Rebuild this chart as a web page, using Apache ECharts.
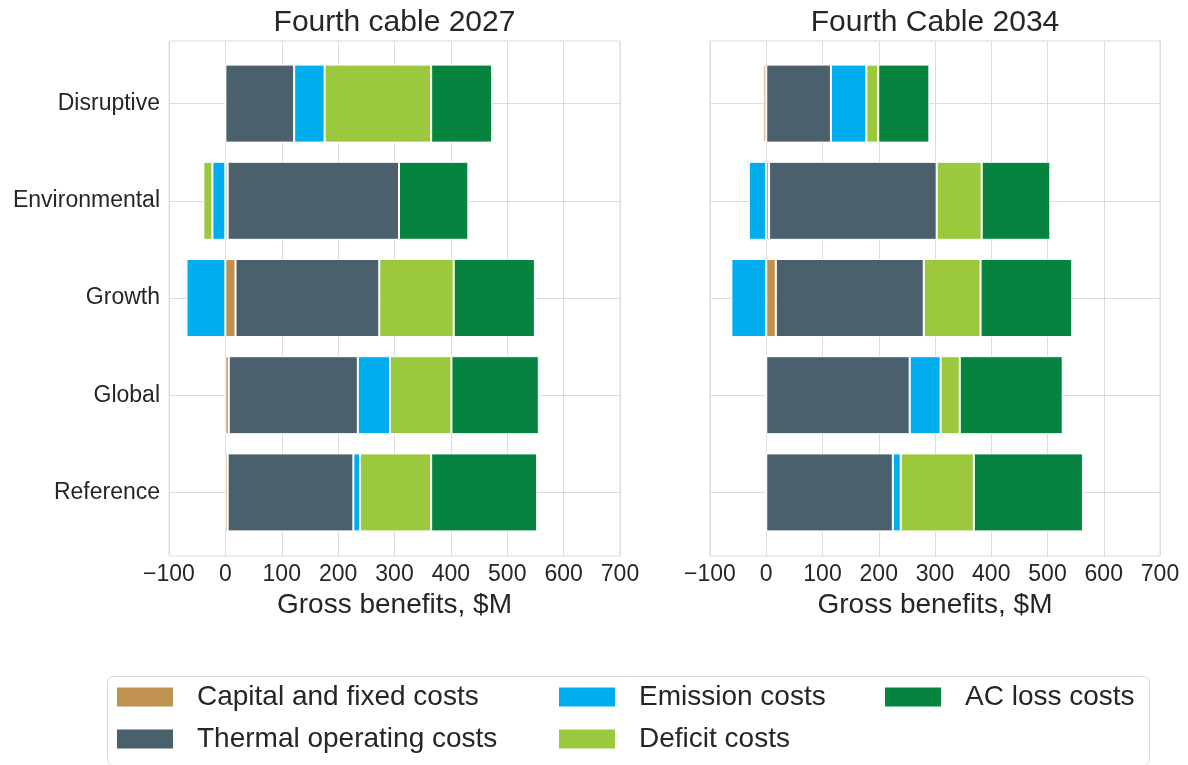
<!DOCTYPE html>
<html>
<head>
<meta charset="utf-8">
<script src="https://cdn.jsdelivr.net/npm/echarts@6/dist/echarts.min.js"></script>
<style>
html,body{margin:0;padding:0;background:#fff;}
#main{width:1188px;height:765px;}
</style>
</head>
<body>
<div id="main"></div>
<script>
// ---- data ----
const categories = ['Disruptive', 'Environmental', 'Growth', 'Global', 'Reference'];
const seriesNames = ['Capital and fixed costs', 'Thermal operating costs', 'Emission costs', 'Deficit costs', 'AC loss costs'];
const panelTitles = ['Fourth cable 2027', 'Fourth Cable 2034'];
const xTicks = [-100, 0, 100, 200, 300, 400, 500, 600, 700];
const xAxisName = 'Gross benefits, $M';

// Fourth cable 2027
const capital2027  = [0, 4, 18, 6, 4];
const thermal2027  = [122, 304, 255, 229, 223];
const emission2027 = [54, -23, -69, 57, 12];
const deficit2027  = [189, -16, 132, 109, 126];
const acloss2027   = [108, 123, 144, 155, 188];

// Fourth Cable 2034
const capital2034  = [-5, 5, 17, 0, 0];
const thermal2034  = [115, 298, 263, 255, 225];
const emission2034 = [63, -31, -62, 55, 14];
const deficit2034  = [21, 80, 101, 34, 130];
const acloss2034   = [91, 122, 163, 183, 194];

const colors = ['#BF9250', '#4A616D', '#00AEEF', '#9BC83C', '#05833F'];

// ---- layout ----
const FONT = '"Liberation Sans", Arial, sans-serif';
const TXT = '#262626';
const GRIDC = '#dcdcdc';
const panels = [
  {left: 169, right: 1188 - 620, data: [capital2027, thermal2027, emission2027, deficit2027, acloss2027]},
  {left: 710, right: 1188 - 1160, data: [capital2034, thermal2034, emission2034, deficit2034, acloss2034]}
];
const frameTop = 41, frameBottom = 765 - 556;
const dataTop = 55, dataBottom = 765 - 541;

const grid = [], xAxis = [], yAxis = [], series = [], title = [];
panels.forEach((p, i) => {
  // frame grid (border + vertical grid lines + tick labels)
  grid.push({left: p.left, right: p.right, top: frameTop, bottom: frameBottom, show: true,
    borderColor: GRIDC, borderWidth: 1, backgroundColor: 'transparent', containLabel: false});
  // data grid (bars + category labels)
  grid.push({left: p.left, right: p.right, top: dataTop, bottom: dataBottom, containLabel: false});
  const fg = 2 * i, dg = 2 * i + 1;
  xAxis.push({gridIndex: fg, type: 'value', min: xTicks[0], max: xTicks[xTicks.length - 1], interval: 100,
    axisLine: {show: false}, axisTick: {show: false},
    splitLine: {show: true, lineStyle: {color: GRIDC, width: 1}},
    axisLabel: {margin: 7, fontSize: 23, color: TXT, fontFamily: FONT,
      formatter: v => String(v).replace('-', '\u2212')},
    name: xAxisName, nameLocation: 'middle', nameGap: 32,
    nameTextStyle: {fontSize: 28, color: TXT, fontFamily: FONT}});
  xAxis.push({gridIndex: dg, type: 'value', min: xTicks[0], max: xTicks[xTicks.length - 1], interval: 100, show: false});
  yAxis.push({gridIndex: fg, type: 'value', show: false, min: 0, max: 1});
  yAxis.push({gridIndex: dg, type: 'category', data: categories, inverse: true,
    axisLine: {show: false}, axisTick: {show: false},
    splitLine: {show: true, alignWithLabel: true, lineStyle: {color: GRIDC, width: 1}},
    axisLabel: {show: i === 0, margin: 9, fontSize: 23, color: TXT, fontFamily: FONT}});
  p.data.forEach((arr, k) => {
    series.push({type: 'bar', name: seriesNames[k], stack: 'panel' + i,
      xAxisIndex: dg, yAxisIndex: dg, data: arr, barWidth: 78,
      itemStyle: {color: colors[k], borderColor: '#ffffff', borderWidth: 1},
      emphasis: {disabled: true}, animation: false});
  });
  title.push({text: panelTitles[i], left: (p.left + (1188 - p.right)) / 2, textAlign: 'center', top: 8, padding: 0,
    textStyle: {fontSize: 30, fontWeight: 'normal', color: TXT, fontFamily: FONT}});
});

const legendBase = {orient: 'vertical', top: 683, itemWidth: 58, itemHeight: 21, itemGap: 14, icon: 'rect',
  selectedMode: false, padding: 0,
  textStyle: {fontSize: 28, lineHeight: 28, color: TXT, fontFamily: FONT, padding: [0, 0, 0, 18]}};
const legend = [
  Object.assign({}, legendBase, {left: 115, data: [seriesNames[0], seriesNames[1]]}),
  Object.assign({}, legendBase, {left: 557, data: [seriesNames[2], seriesNames[3]]}),
  Object.assign({}, legendBase, {left: 883, data: [seriesNames[4]]})
];

const chart = echarts.init(document.getElementById('main'), null, {renderer: 'canvas'});
chart.setOption({
  backgroundColor: '#ffffff',
  animation: false,
  title, grid, xAxis, yAxis, series, legend,
  graphic: [{type: 'rect', left: 105, top: 674, shape: {width: 1042, height: 89, r: 6},
    style: {fill: 'none', stroke: '#d9d9d9', lineWidth: 1}, silent: true}]
});
</script>
</body>
</html>
